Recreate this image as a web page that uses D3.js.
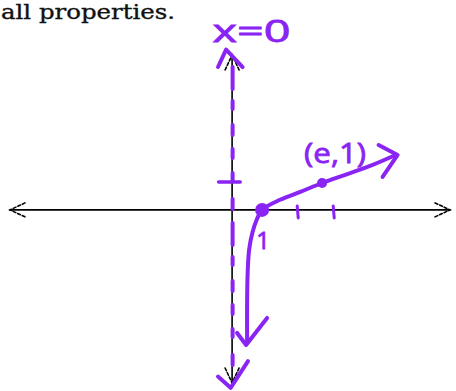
<!DOCTYPE html>
<html>
<head>
<meta charset="utf-8">
<script src="https://cdn.jsdelivr.net/npm/d3@7"></script>
<style>
  html, body { margin: 0; padding: 0; background: #fff; }
  svg { display: block; }
</style>
</head>
<body>
<svg id="chart" width="456" height="391"></svg>
<script>
// Sketch of y = ln x : hand-traced curve points in graph units
const curveX = [0.5, 0.5, 0.52, 0.57, 0.68, 0.82, 1.0, 1.6, 2.27, 3.0, 3.77, 4.6, 5.45];
const curveY = [-4.75, -3.4, -2.2, -1.4, -0.8, -0.35, 0.0, 0.36, 0.64, 0.96, 1.25, 1.57, 1.96];
// marked points: (1, 0) and (e, 1)
const markX = [1.0, 3.0];
const markY = [0.0, 0.96];
const markR = [7, 5];
// hand-drawn tick marks on the x-axis and the y-axis
const xTicks = [2.17, 3.37];
const yTicks = [1.0];
const labels = ["1", "(e,1)", "x=0"];
const caption = "all properties.";

const W = 456, H = 391;
const ink = "#8a24f4";
const svg = d3.select("#chart");

// graph units -> pixels (origin at the crossing of the axes)
const x = d3.scaleLinear().domain([-7.47, 7.33]).range([8, 452]);
const y = d3.scaleLinear().domain([-6.25, 5.6]).range([385, 53]);

// caption text at the top
svg.append("text")
  .attr("x", 1).attr("y", 19)
  .attr("textLength", 174)
  .attr("lengthAdjust", "spacingAndGlyphs")
  .attr("font-family", "'DejaVu Serif', 'Liberation Serif', serif")
  .attr("font-size", 20)
  .attr("fill", "#111")
  .attr("stroke", "#111").attr("stroke-width", 0.35)
  .text(caption);

// black axes with open arrowheads
const axes = svg.append("g").attr("stroke", "#000").attr("fill", "none")
  .attr("stroke-width", 1.6).attr("stroke-linecap", "round");
const [x0, x1] = x.domain();
const [y0, y1] = y.domain();
axes.append("line").attr("x1", x(x0) + 2).attr("x2", x(x1) - 2).attr("y1", y(0)).attr("y2", y(0));
axes.append("line").attr("x1", x(0)).attr("x2", x(0)).attr("y1", y(y1) + 2).attr("y2", y(y0) - 2);
const head = (px, py, dx, dy) => {
  // two arms of a chevron pointing toward (px, py)
  const ox = -dy, oy = dx;
  return `M${px - dx * 15 + ox * 7},${py - dy * 15 + oy * 7}L${px},${py}L${px - dx * 15 - ox * 7},${py - dy * 15 - oy * 7}`;
};
axes.append("path").attr("stroke-dasharray", "3,2").attr("d",
  head(x(x0) + 2, y(0), -1, 0) + head(x(x1) - 2, y(0), 1, 0) +
  head(x(0), y(y1) + 2, 0, -1) + head(x(0), y(y0) - 2, 0, 1));

// purple asymptote x = 0 (dashed) with arrowheads
const pen = svg.append("g").attr("stroke", ink).attr("fill", "none")
  .attr("stroke-width", 4).attr("stroke-linecap", "round").attr("stroke-linejoin", "round");
pen.append("line")
  .attr("x1", x(0) + 0.5).attr("x2", x(0) + 0.5)
  .attr("y1", y(5.1)).attr("y2", y(-6.0))
  .attr("stroke-dasharray", "22,12,8,16,10,14,9,15,8,18,10,14");
pen.append("path").attr("d",
  `M${x(-0.47)},${y(5.1)}L${x(-0.2)},${y(5.72)}L${x(0.35)},${y(5.1)}`);
pen.append("path").attr("d",
  `M${x(-0.47)},${y(-5.95)}L${x(-0.05)},${y(-6.35)}L${x(0.53)},${y(-5.4)}`);

// tick marks
pen.selectAll(".xt").data(xTicks).join("line")
  .attr("class", "xt")
  .attr("x1", d => x(d)).attr("x2", d => x(d) + 1)
  .attr("y1", y(0) - 4).attr("y2", y(0) + 8)
  .attr("stroke-width", 3);
pen.selectAll(".yt").data(yTicks).join("line")
  .attr("class", "yt")
  .attr("x1", x(-0.45)).attr("x2", x(0.27))
  .attr("y1", d => y(d)).attr("y2", d => y(d))
  .attr("stroke-width", 3.5);

// the curve
const pts = curveX.map((v, i) => [x(v), y(curveY[i])]);
pen.append("path")
  .attr("d", d3.line().curve(d3.curveCatmullRom.alpha(0.5))(pts))
  .attr("stroke-width", 4);

// arrowheads at both ends of the curve
const last = pts[pts.length - 1];
pen.append("path").attr("d",
  `M${last[0] - 17},${last[1] - 10}L${last[0] + 2},${last[1]}L${last[0] - 13},${last[1] + 22}`);
const first = pts[0];
pen.append("path").attr("d",
  `M${first[0] - 10},${first[1] - 10}L${first[0] - 1},${first[1] + 2}L${first[0] + 20},${first[1] - 25}`);

// marked points
svg.selectAll(".pt").data(markX).join("circle")
  .attr("class", "pt")
  .attr("cx", d => x(d)).attr("cy", (d, i) => y(markY[i]))
  .attr("r", (d, i) => markR[i])
  .attr("fill", ink);

// handwritten labels
const hand = svg.append("g").attr("fill", ink).attr("stroke", ink)
  .attr("stroke-width", 0.8).attr("font-family", "'Open Sans', Lato, sans-serif");
hand.append("text").attr("x", x(1.03)).attr("y", y(-1.38))
  .attr("font-size", 24).attr("text-anchor", "middle").text(labels[0]);
hand.append("text").attr("x", x(2.4)).attr("y", y(1.68))
  .attr("font-size", 28).attr("textLength", 62).attr("lengthAdjust", "spacingAndGlyphs")
  .text(labels[1]);
hand.append("text").attr("x", x(-0.65)).attr("y", y(6.0))
  .attr("font-size", 31).attr("textLength", 78).attr("lengthAdjust", "spacingAndGlyphs")
  .text(labels[2]);
</script>
</body>
</html>
